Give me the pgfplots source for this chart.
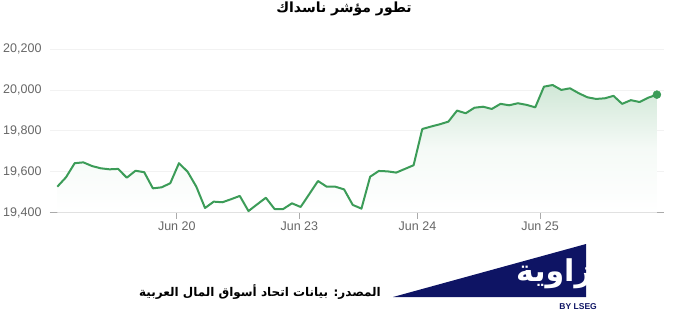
\documentclass[border=0pt]{standalone}
\usepackage{pgfplots}
\usepackage{pgfplotstable}
\pgfplotsset{compat=1.18}
\usepackage{fontspec}
\setmainfont{Liberation Sans}
\newfontfamily\arabicfont[Script=Arabic]{DejaVu Sans}
\TeXXeTstate=1

\definecolor{linegreen}{RGB}{60,156,88}
\definecolor{ticktext}{RGB}{102,102,102}
\definecolor{axisgray}{RGB}{170,170,170}
\definecolor{gridgray}{RGB}{242,242,242}
\definecolor{zawyanavy}{RGB}{14,20,100}

% Nasdaq index, half-hourly closes (14 per session)
\pgfplotstableread{
idx value
0 19527
1 19573
2 19642
3 19646
4 19628
5 19617
6 19612
7 19614
8 19571
9 19605
10 19598
11 19519
12 19524
13 19544
14 19642
15 19600
16 19527
17 19423
18 19454
19 19451
20 19466
21 19482
22 19408
23 19441
24 19473
25 19418
26 19418
27 19446
28 19428
29 19491
30 19555
31 19527
32 19527
33 19514
34 19438
35 19420
36 19576
37 19604
38 19602
39 19596
40 19614
41 19632
42 19809
43 19821
44 19832
45 19845
46 19899
47 19886
48 19913
49 19918
50 19907
51 19932
52 19925
53 19935
54 19927
55 19915
56 20016
57 20024
58 20000
59 20008
60 19984
61 19964
62 19956
63 19959
64 19971
65 19932
66 19950
67 19941
68 19962
69 19977
}\nasdaq

\begin{document}
\begin{tikzpicture}
\useasboundingbox (0pt,0pt) rectangle (674pt,314pt);

% title
\node[font=\arabicfont\bfseries\fontsize{14}{17}\selectfont] at (344pt,305pt)
  {\beginR تطور مؤشر ناسداك\endR};

\begin{axis}[
  at={(50pt,101.3pt)}, anchor=south west,
  scale only axis, width=613.6pt, height=163.7pt,
  xmin=-0.84, xmax=69.77, ymin=19400, ymax=20200,
  axis x line*=bottom, axis y line*=left,
  x axis line style={axisgray, line width=1.5pt},
  y axis line style={draw=none},
  xtick={13.75,27.85,41.45,55.55},
  xticklabels={Jun 20, Jun 23, Jun 24, Jun 25},
  ytick={19400,19600,19800,20000,20200},
  scaled y ticks=false,
  tick align=outside, major tick length=6pt,
  xtick style={axisgray, line width=0.9pt},
  ytick style={draw=none},
  ymajorgrids, grid style={gridgray, line width=0.8pt},
  tick label style={font=\fontsize{12.5}{14}\selectfont, text=ticktext},
  yticklabel style={/pgf/number format/.cd, fixed, 1000 sep={,}, /tikz/.cd, anchor=east, xshift=1pt},
  /pgf/number format/assume math mode=true,
  clip=false,
]
\addplot[draw=none, top color=linegreen!24, bottom color=white, middle color=linegreen!5]
  table[x=idx, y=value] {\nasdaq} \closedcycle;
\addplot[linegreen, line width=2pt, line join=round, mark=none]
  table[x=idx, y=value] {\nasdaq};
\addplot[only marks, mark=*, mark size=4pt, linegreen] coordinates {(69,19977)};
\end{axis}

% source line
\node[font=\arabicfont\bfseries\fontsize{12}{14}\selectfont] at (260pt,22.3pt)
  {\beginR المصدر: بيانات اتحاد أسواق المال العربية\endR};

% logo
\fill[zawyanavy] (393pt,17pt) -- (586pt,70pt) -- (586pt,17pt) -- cycle;
\begin{scope}
  \clip (393pt,17pt) -- (586pt,70pt) -- (586pt,17pt) -- cycle;
  \node[white, font=\arabicfont\bfseries\fontsize{30}{32}\selectfont, anchor=east, inner sep=0pt]
    at (592pt,40pt) {\beginR زاوية\endR};
\end{scope}
\node[zawyanavy, font=\bfseries\fontsize{8.5}{10}\selectfont, anchor=east, inner sep=0pt]
  at (597pt,7pt) {BY LSEG};
\end{tikzpicture}
\end{document}
